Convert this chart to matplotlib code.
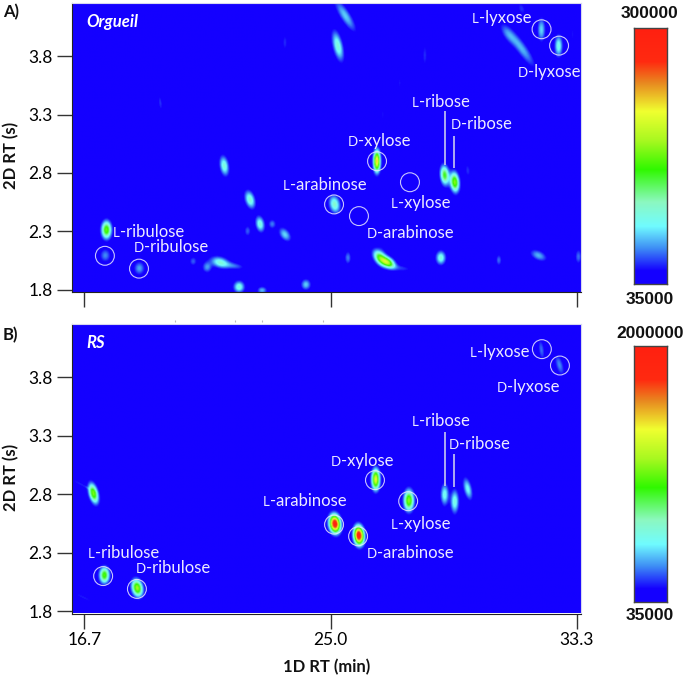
"""
Selected ion chromatograms (GCxGC) of sugars, Orgueil extract vs. RS standard
"""

import numpy as np
import matplotlib
matplotlib.use('Agg')
import matplotlib.pyplot as plt
from matplotlib.colors import LinearSegmentedColormap

plt.rcParams['font.family'] = ['Lato', 'DejaVu Sans']

X_TICKS = [16.7, 25.0, 33.3]
X_TICK_LABELS = ['16.7', '25.0', '33.3']
Y_TICKS = [1.8, 2.3, 2.8, 3.3, 3.8]
Y_TICK_LABELS = ['1.8', '2.3', '2.8', '3.3', '3.8']

# Orgueil peaks: retention times, relative height, widths, tilt
orgueil_x = [17.43, 17.39, 18.54, 21.41, 22.28, 22.62, 23.03, 22.20, 23.46, 20.36, 20.83, 21.27, 21.75,
             21.91, 22.69, 24.17, 19.25, 23.46, 25.25, 25.50, 25.14, 25.96, 26.57, 28.86, 29.20, 29.64,
             32.13, 32.71, 30.99, 31.46, 33.18, 28.19, 27.34, 26.77, 26.67, 26.94, 27.40, 25.59, 28.73,
             30.69, 32.03, 33.38, 26.77, 31.46]
orgueil_y = [2.31, 2.09, 1.98, 2.86, 2.57, 2.36, 2.36, 2.30, 2.27, 2.04, 1.99, 2.03, 2.00,
             1.82, 1.79, 1.84, 3.40, 3.92, 3.89, 4.15, 2.53, 2.43, 2.90, 2.78, 2.72, 2.82,
             4.03, 3.89, 3.99, 3.87, 3.99, 3.81, 3.57, 3.30, 2.07, 2.03, 1.98, 2.07, 2.07,
             2.05, 2.09, 2.08, 2.22, 4.21]
orgueil_amp = [0.50, 0.14, 0.16, 0.28, 0.29, 0.27, 0.13, 0.11, 0.20, 0.11, 0.15, 0.27, 0.11,
               0.27, 0.17, 0.19, 0.08, 0.08, 0.28, 0.19, 0.30, 0.05, 0.72, 0.43, 0.53, 0.08,
               0.20, 0.26, 0.12, 0.17, 0.06, 0.08, 0.06, 0.06, 0.43, 0.53, 0.08, 0.13, 0.27,
               0.12, 0.17, 0.12, 0.05, 0.08]
orgueil_sx = [0.10, 0.11, 0.11, 0.09, 0.10, 0.09, 0.08, 0.07, 0.11, 0.08, 0.10, 0.18, 0.20,
              0.11, 0.10, 0.10, 0.05, 0.05, 0.10, 0.12, 0.11, 0.10, 0.07, 0.09, 0.09, 0.06,
              0.08, 0.08, 0.12, 0.13, 0.05, 0.05, 0.05, 0.05, 0.12, 0.13, 0.22, 0.07, 0.10,
              0.06, 0.15, 0.07, 0.10, 0.09]
orgueil_sy = [0.045, 0.035, 0.035, 0.050, 0.045, 0.040, 0.025, 0.030, 0.035, 0.025, 0.030, 0.030, 0.020,
              0.030, 0.020, 0.028, 0.050, 0.050, 0.075, 0.080, 0.045, 0.035, 0.055, 0.050, 0.050, 0.040,
              0.060, 0.055, 0.055, 0.095, 0.060, 0.070, 0.060, 0.050, 0.040, 0.030, 0.020, 0.035, 0.035,
              0.030, 0.030, 0.040, 0.070, 0.040]
orgueil_tilt = [0.0, 0.0, 0.0, -0.5, -0.8, -0.5, 0.0, 0.0, -1.5, 0.0, 0.0, -2.0, -4.0,
                0.0, 0.0, 0.0, -0.4, 0.0, -0.8, -2.2, -0.5, 0.0, 0.0, -0.3, -0.3, -0.3,
                0.0, 0.0, -2.0, -2.5, 0.0, 0.0, 0.0, 0.0, -1.5, -2.0, -4.0, 0.0, 0.0,
                0.0, -2.5, 0.0, 0.0, -1.0]

# RS standard peaks
rs_x = [16.99, 17.36, 18.47, 25.15, 25.96, 26.53, 27.65, 28.86, 29.20, 29.64, 32.13, 32.74, 26.10, 27.58,
        16.55, 16.65]
rs_y = [2.80, 2.10, 1.99, 2.54, 2.44, 2.92, 2.74, 2.79, 2.73, 2.84, 4.03, 3.90, 2.14, 2.17,
        2.88, 1.91]
rs_amp = [0.52, 0.48, 0.56, 1.00, 1.00, 0.66, 0.54, 0.25, 0.27, 0.24, 0.12, 0.14, 0.05, 0.03,
          0.08, 0.08]
rs_sx = [0.10, 0.11, 0.12, 0.12, 0.11, 0.09, 0.11, 0.09, 0.09, 0.09, 0.07, 0.09, 0.08, 0.06,
         0.05, 0.05]
rs_sy = [0.055, 0.045, 0.048, 0.050, 0.052, 0.058, 0.058, 0.060, 0.065, 0.060, 0.060, 0.060, 0.030, 0.025,
         0.035, 0.030]
rs_tilt = [-0.8, 0.0, -0.5, -0.3, -0.2, 0.0, 0.0, 0.0, 0.0, -0.8, -0.5, -1.0, 0.0, 0.0,
           -7.0, -8.0]

# circled peaks, left to right
orgueil_circle_x = [17.39, 18.54, 25.12, 25.96, 26.57, 27.68, 32.12, 32.71]
orgueil_circle_y = [2.09, 1.98, 2.53, 2.43, 2.90, 2.72, 4.03, 3.89]
rs_circle_x = [17.33, 18.47, 25.12, 25.93, 26.50, 27.62, 32.13, 32.74]
rs_circle_y = [2.10, 1.99, 2.54, 2.44, 2.92, 2.74, 4.04, 3.90]

# labels: chirality prefix, sugar name, left edge, height
label_prefix = ['L', 'D', 'L', 'D', 'L', 'D', 'L', 'D', 'L', 'D']
label_name = ['-ribulose', '-ribulose', '-arabinose', '-arabinose', '-xylose',
              '-xylose', '-ribose', '-ribose', '-lyxose', '-lyxose']
orgueil_label_x = [17.66, 18.37, 23.40, 26.23, 27.04, 25.59, 27.75, 29.07, 29.77, 31.33]
orgueil_label_y = [2.30, 2.17, 2.70, 2.29, 2.55, 3.08, 3.41, 3.22, 4.13, 3.67]
rs_label_x = [16.82, 18.44, 22.72, 26.23, 27.04, 25.02, 27.75, 29.00, 29.71, 30.62]
rs_label_y = [2.30, 2.17, 2.75, 2.30, 2.55, 3.09, 3.43, 3.23, 4.02, 3.72]

# leader lines for the two ribose peaks
orgueil_lead_x = [28.86, 29.17]
orgueil_lead_top = [3.33, 3.12]
orgueil_lead_bottom = [2.87, 2.84]
rs_lead_x = [28.86, 29.17]
rs_lead_top = [3.33, 3.14]
rs_lead_bottom = [2.87, 2.86]

# stray tick marks left over above panel B
stray_ticks = [19.75, 21.78, 22.69, 24.75]

W, H = 685, 678
XLIM = (16.28, 33.45)
YLIM = (1.78, 4.255)

BLUE = '#1400ff'
cmap = LinearSegmentedColormap.from_list('gcxgc', [
    (0.0, BLUE), (0.05, BLUE), (0.14, '#3f90f5'), (0.225, '#70fcff'), (0.32, '#8cf8c0'),
    (0.447, '#30f800'), (0.56, '#a8f820'), (0.675, '#f0ff30'), (0.785, '#e88a20'),
    (0.87, '#ff2a10'), (1.0, '#ff2010'),
])


def px_rect(left, top, right, bottom):
    return [left / W, 1 - bottom / H, (right - left) / W, (bottom - top) / H]


def peak_field(xs, ys, amp, sx, sy, tilt, soften=1.0):
    gx = np.linspace(XLIM[0], XLIM[1], 520)
    gy = np.linspace(YLIM[0], YLIM[1], 300)
    xx, yy = np.meshgrid(gx, gy)
    field = np.zeros_like(xx)
    for x0, y0, a, wx, wy, t in zip(xs, ys, amp, sx, sy, tilt):
        dy = yy - y0
        dx = (xx - x0) - t * dy
        field += a * np.exp(-0.5 * ((dx / (wx * soften)) ** 2 + (dy / (wy * soften)) ** 2))
    return np.clip(field, 0, 1)


def draw_label(ax, fig, prefix, name, x, y):
    # small-capital L/D followed by the sugar name
    small = ax.annotate(prefix, (x, y), xytext=(0, -4), textcoords='offset points',
                        color='white', fontsize=9.5, alpha=0.92, va='baseline', ha='left')
    extent = small.get_window_extent(fig.canvas.get_renderer())
    ax.annotate(name, (x, y), xytext=(extent.width * 72 / fig.dpi, -4), textcoords='offset points',
                color='white', fontsize=12, alpha=0.92, va='baseline', ha='left')


def draw_panel(fig, rect, field, circle_x, circle_y, label_x, label_y, lead_x, lead_top, lead_bottom,
               title, tag, tag_y):
    ax = fig.add_axes(rect)
    ax.imshow(field, origin='lower', aspect='auto', cmap=cmap, vmin=0, vmax=1,
              extent=[XLIM[0], XLIM[1], YLIM[0], YLIM[1]], interpolation='bilinear')
    ax.set_xlim(XLIM)
    ax.set_ylim(YLIM)

    ax.scatter(circle_x, circle_y, s=185, facecolors='none', edgecolors='#e8e8ff', linewidths=0.8, alpha=0.85)
    ax.vlines(lead_x, lead_bottom, lead_top, color='#c8c8f0', linewidth=1.2)
    for prefix, name, x, y in zip(label_prefix, label_name, label_x, label_y):
        draw_label(ax, fig, prefix, name, x, y)

    ax.text(0.029, 0.935, title, transform=ax.transAxes, color='white', fontsize=12,
            fontweight='bold', fontstyle='italic', va='center')

    ax.set_yticks(Y_TICKS, Y_TICK_LABELS, fontsize=12.5)
    ax.tick_params(axis='y', length=11, width=1, color='#333333', pad=3)
    ax.tick_params(axis='x', length=10.5, width=1, color='#333333', pad=3)
    ax.set_xticks(X_TICKS)
    for side in ('top', 'right'):
        ax.spines[side].set_color('#d6d6f0')
    for side in ('left', 'bottom'):
        ax.spines[side].set_color('#222222')

    fig.text(11 / W, 1 - 155 / H if tag == 'A)' else 1 - 477 / H, '2D RT (s)', rotation=90,
             fontsize=12, fontweight='bold', ha='center', va='center', color='#111111')
    fig.text(3 / W, 1 - tag_y / H, tag, fontsize=12, fontweight='bold', va='center', color='#111111')
    return ax


def draw_colorbar(fig, rect, top_label, top_y, bottom_y):
    cax = fig.add_axes(rect)
    gradient = np.linspace(0, 1, 256).reshape(-1, 1)
    cax.imshow(gradient, origin='lower', aspect='auto', cmap=cmap, vmin=0, vmax=1)
    cax.set_xticks([])
    cax.set_yticks([])
    for spine in cax.spines.values():
        spine.set_color('#444444')
        spine.set_linewidth(1.0)
    fig.text(650 / W, 1 - top_y / H, top_label, family='Liberation Sans', fontsize=12.5,
             fontweight='bold', ha='center', va='center', color='#111111')
    fig.text(650 / W, 1 - bottom_y / H, '35000', family='Liberation Sans', fontsize=12.5,
             fontweight='bold', ha='center', va='center', color='#111111')


fig = plt.figure(figsize=(W / 100, H / 100), dpi=100, facecolor='white')

ax_a = draw_panel(fig, px_rect(72, 3, 581, 292),
                  peak_field(orgueil_x, orgueil_y, orgueil_amp, orgueil_sx, orgueil_sy, orgueil_tilt, soften=1.1),
                  orgueil_circle_x, orgueil_circle_y, orgueil_label_x, orgueil_label_y,
                  orgueil_lead_x, orgueil_lead_top, orgueil_lead_bottom, 'Orgueil', 'A)', 12)
ax_a.set_xticklabels([])

ax_b = draw_panel(fig, px_rect(72, 324, 581, 613.5),
                  peak_field(rs_x, rs_y, rs_amp, rs_sx, rs_sy, rs_tilt),
                  rs_circle_x, rs_circle_y, rs_label_x, rs_label_y,
                  rs_lead_x, rs_lead_top, rs_lead_bottom, 'RS', 'B)', 335)
ax_b.set_xticklabels(X_TICK_LABELS, fontsize=12.5)
ax_b.set_xlabel('1D RT (min)', fontsize=12, fontweight='bold', color='#111111', labelpad=8, x=0.5)
ax_b.vlines(stray_ticks, YLIM[1] + 0.015, YLIM[1] + 0.03, color='#bbbbbb', linewidth=0.8, clip_on=False)

draw_colorbar(fig, px_rect(634, 28, 667, 284), '300000', 14, 299)
draw_colorbar(fig, px_rect(634, 346, 667, 602), '2000000', 333, 616)

plt.savefig('out.png', dpi=100)
